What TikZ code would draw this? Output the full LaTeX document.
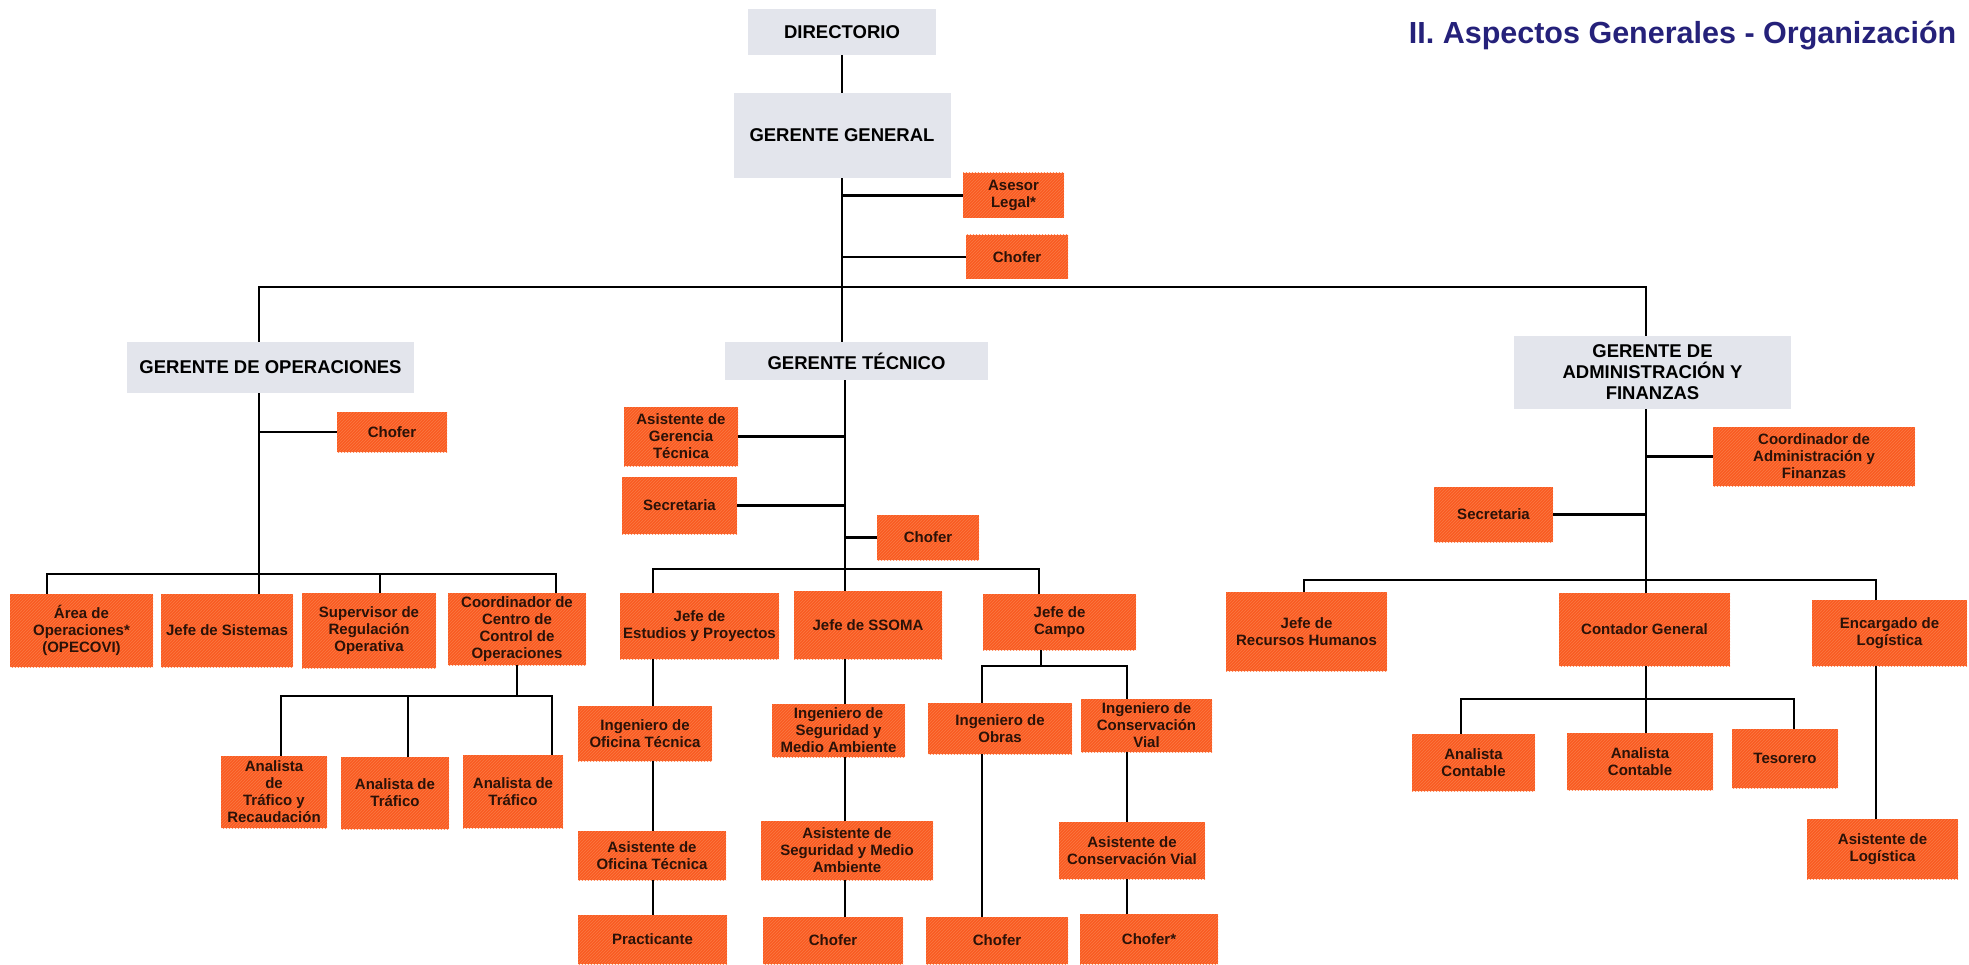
\documentclass[tikz,border=0pt]{standalone}
\usepackage{fontspec}
\setmainfont{Liberation Sans}
\usetikzlibrary{patterns}

\definecolor{naranja}{HTML}{F95A20}
\definecolor{rayado}{HTML}{FB7A45}
\definecolor{gris}{HTML}{E3E5EC}
\definecolor{azul}{HTML}{25217A}
\definecolor{letra}{HTML}{2A1208}

\begin{document}
\begin{tikzpicture}[x=1pt,y=-1pt,line width=2.6pt,line cap=rect,
	cargo/.style 2 args={fill=naranja,postaction={pattern=north east lines,pattern color=rayado},
		align=center,inner sep=0pt,minimum width=#1pt,minimum height=#2pt,text=letra,
		font=\fontsize{15}{17}\selectfont\bfseries},
	gerencia/.style 2 args={fill=gris,align=center,inner sep=0pt,minimum width=#1pt,minimum height=#2pt,
		font=\fontsize{18.5}{21}\selectfont\bfseries}]
			\useasboundingbox (0,0) rectangle (1969,965);
			\node[anchor=base east,text=azul,font=\fontsize{30.5}{31}\selectfont\bfseries] (titulo) at (1961,43.5) {II. Aspectos Generales - Organización};
			
			% Directorio -> Gerente General
			\node[gerencia={188}{46}] (dir) at (842,32) {DIRECTORIO};
			\node[gerencia={217}{85}] (gg) at (842,135.5) {GERENTE GENERAL};
			\node[cargo={101}{45}] (ase) at (1013.5,195.5) {Asesor\\Legal*};
			\node[cargo={102}{44}] (cho0) at (1017,257) {Chofer};
			\node[gerencia={287}{51}] (gop) at (270.5,367.5) {GERENTE DE OPERACIONES};
			\node[gerencia={263}{38}] (gtec) at (856.5,361) {GERENTE TÉCNICO};
			\node[gerencia={277}{73}] (gadm) at (1652.5,372.5) {GERENTE DE\\ADMINISTRACIÓN Y\\FINANZAS};
			
			% Operaciones
			\node[cargo={110}{40}] (choOp) at (392,432) {Chofer};
			\node[cargo={143}{73}] (area) at (81.5,630.5) {Área de\\Operaciones*\\(OPECOVI)};
			\node[cargo={132}{73}] (jsis) at (227,630.5) {Jefe de Sistemas};
			\node[cargo={134}{75}] (sup) at (369,630.5) {Supervisor de\\Regulación\\Operativa};
			\node[cargo={138}{72}] (coo) at (517,629) {Coordinador de\\Centro de\\Control de\\Operaciones};
			\node[cargo={106}{72}] (at1) at (274,792) {Analista\\de\\Tráfico y\\Recaudación};
			\node[cargo={108}{72}] (at2) at (395,793) {Analista de\\Tráfico};
			\node[cargo={100}{73}] (at3) at (513,791.5) {Analista de\\Tráfico};
			
			% Tecnico
			\node[cargo={114}{59}] (agt) at (681,436.5) {Asistente de\\Gerencia\\Técnica};
			\node[cargo={115}{57}] (sec1) at (679.5,505.5) {Secretaria};
			\node[cargo={102}{45}] (cho1) at (928,537.5) {Chofer};
			\node[cargo={159}{66}] (jep) at (699.5,626) {Jefe de\\Estudios y Proyectos};
			\node[cargo={148}{68}] (jss) at (868,625) {Jefe de SSOMA};
			\node[cargo={153}{56}] (jca) at (1059.5,622) {Jefe de\\Campo};
			\node[cargo={134}{55}] (iot) at (645,733.5) {Ingeniero de\\Oficina Técnica};
			\node[cargo={148}{49}] (aot) at (652,855.5) {Asistente de\\Oficina Técnica};
			\node[cargo={149}{49}] (pra) at (652.5,939.5) {Practicante};
			\node[cargo={133}{53}] (iss) at (838.5,730.5) {Ingeniero de\\Seguridad y\\Medio Ambiente};
			\node[cargo={172}{59}] (ass) at (847,850.5) {Asistente de\\Seguridad y Medio\\Ambiente};
			\node[cargo={140}{47}] (cho2) at (833,940.5) {Chofer};
			\node[cargo={144}{51}] (iob) at (1000,728.5) {Ingeniero de\\Obras};
			\node[cargo={131}{53}] (icv) at (1146.5,725.5) {Ingeniero de\\Conservación\\Vial};
			\node[cargo={142}{47}] (cho3) at (997,940.5) {Chofer};
			\node[cargo={146}{57}] (acv) at (1132,850.5) {Asistente de\\Conservación Vial};
			\node[cargo={138}{50}] (cho4) at (1149,939) {Chofer*};
			
			% Administracion y Finanzas
			\node[cargo={202}{59}] (cadm) at (1814,456.5) {Coordinador de\\Administración y\\Finanzas};
			\node[cargo={119}{55}] (sec2) at (1493.5,514.5) {Secretaria};
			\node[cargo={161}{79}] (jrh) at (1306.5,631.5) {Jefe de\\Recursos Humanos};
			\node[cargo={171}{73}] (cg) at (1644.5,629.5) {Contador General};
			\node[cargo={155}{66}] (enl) at (1889.5,633) {Encargado de\\Logística};
			\node[cargo={123}{57}] (ac1) at (1473.5,762.5) {Analista\\Contable};
			\node[cargo={146}{57}] (ac2) at (1640,761.5) {Analista\\Contable};
			\node[cargo={106}{59}] (tes) at (1785,758.5) {Tesorero};
			\node[cargo={151}{60}] (asl) at (1882.5,849) {Asistente de\\Logística};
			
			% barras
			\coordinate (bL) at (259,287); \coordinate (bR) at (1646,287);
			\coordinate (opL) at (47,574); \coordinate (opS) at (380,574); \coordinate (opR) at (556,574);
			\coordinate (coL) at (281,696); \coordinate (coM) at (408,696); \coordinate (coR) at (552,696);
			\coordinate (tL) at (653,569); \coordinate (tM) at (845,569); \coordinate (tR) at (1039,569);
			\coordinate (caL) at (982,666); \coordinate (caM) at (1041,666); \coordinate (caR) at (1127,666);
			\coordinate (adL) at (1304,580); \coordinate (adR) at (1876,580);
			\coordinate (cgL) at (1461,699); \coordinate (cgR) at (1794,699);
			
			% Directorio -- Gerente General -- gerencias
			\draw (dir) -- (gg);
			\draw (gg) -- (gg |- gtec.north);
			\draw (ase) -- (ase -| gg);
			\draw (cho0) -- (cho0 -| gg);
			\draw (bL) -- (bR);
			\draw (bL) -- (bL |- gop.north);
			\draw (bR) -- (bR |- gadm.north);
			
			% Operaciones
			\draw (bL |- gop.south) -- (bL |- jsis.north);
			\draw (choOp) -- (choOp -| bL);
			\draw (opL) -- (opR);
			\draw (opL) -- (opL |- area.north);
			\draw (opS) -- (opS |- sup.north);
			\draw (opR) -- (opR |- coo.north);
			\draw (coo) -- (coo |- coL);
			\draw (coL) -- (coR);
			\draw (coL) -- (coL |- at1.north);
			\draw (coM) -- (coM |- at2.north);
			\draw (coR) -- (coR |- at3.north);
			
			% Tecnico
			\draw (tM |- gtec.south) -- (tM |- jss.north);
			\draw (agt) -- (agt -| tM);
			\draw (sec1) -- (sec1 -| tM);
			\draw (cho1) -- (cho1 -| tM);
			\draw (tL) -- (tR);
			\draw (tL) -- (tL |- jep.north);
			\draw (tR) -- (tR |- jca.north);
			\draw (tL |- jep.south) -- (tL |- iot.north);
			\draw (tL |- iot.south) -- (tL |- aot.north);
			\draw (tL |- aot.south) -- (tL |- pra.north);
			\draw (tM |- jss.south) -- (tM |- iss.north);
			\draw (tM |- iss.south) -- (tM |- ass.north);
			\draw (tM |- ass.south) -- (tM |- cho2.north);
			\draw (caM |- jca.south) -- (caM);
			\draw (caL) -- (caR);
			\draw (caL) -- (caL |- iob.north);
			\draw (caR) -- (caR |- icv.north);
			\draw (caL |- iob.south) -- (caL |- cho3.north);
			\draw (caR |- icv.south) -- (caR |- acv.north);
			\draw (caR |- acv.south) -- (caR |- cho4.north);
			
			% Administracion y Finanzas
			\draw (bR |- gadm.south) -- (bR |- cg.north);
			\draw (cadm) -- (cadm -| bR);
			\draw (sec2) -- (sec2 -| bR);
			\draw (adL) -- (adR);
			\draw (adL) -- (adL |- jrh.north);
			\draw (adR) -- (adR |- enl.north);
			\draw (bR |- cg.south) -- (bR |- ac2.north);
			\draw (cgL) -- (cgR);
			\draw (cgL) -- (cgL |- ac1.north);
			\draw (cgR) -- (cgR |- tes.north);
			\draw (adR |- enl.south) -- (adR |- asl.north);
		\end{tikzpicture}
\end{document}
